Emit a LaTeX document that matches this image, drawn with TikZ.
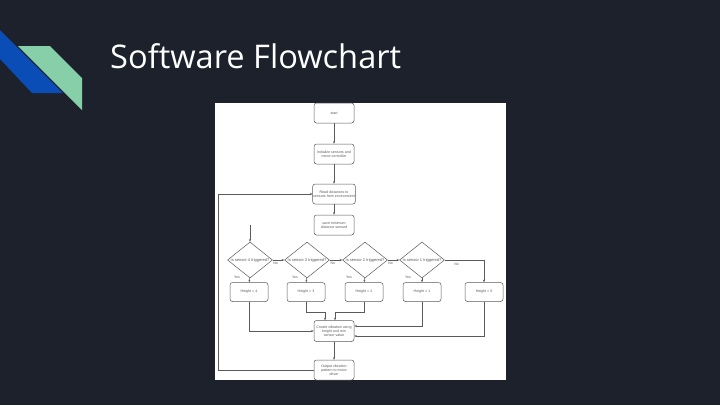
\documentclass[tikz,border=0pt]{standalone}
\usepackage{fontspec}
\setmainfont{Liberation Sans}
\newfontfamily\titlefont{Open Sans}
\usetikzlibrary{shapes.geometric,arrows.meta}
\definecolor{slidebg}{HTML}{1C212C}
\definecolor{bandblue}{HTML}{0B4DB6}
\definecolor{bandgreen}{HTML}{86CFA8}
\definecolor{chartline}{HTML}{5A5A5A}
\tikzset{
  box/.style={draw=chartline, line width=0.5pt, rounded corners=2.5pt, minimum width=40pt,
    minimum height=20pt, inner sep=0.5pt, align=center, text=chartline,
    font=\fontsize{3.6}{4.2}\selectfont},
  hbox/.style={box, minimum width=38pt, minimum height=19pt},
  dec/.style={draw=chartline, line width=0.5pt, shape=diamond, minimum width=45pt,
    minimum height=36pt, inner sep=0pt},
  dectext/.style={text=chartline, font=\fontsize{4}{4.5}\selectfont, inner sep=0pt},
  flow/.style={draw=chartline, line width=0.5pt, -{Stealth[length=2.5pt,width=2pt]}},
  tag/.style={text=chartline, font=\fontsize{3.5}{4}\selectfont, inner sep=0pt}
}
\begin{document}
\begin{tikzpicture}[x=1pt,y=-1pt]
\useasboundingbox (0,0) rectangle (720,405);
\fill[slidebg] (0,0) rectangle (720,405);
% corner bands
\fill[bandblue] (0,30) -- (63,93) -- (32,93) -- (0,59) -- cycle;
\fill[bandgreen] (18,46) -- (50,46) -- (82,78) -- (82,110) -- cycle;
\node[anchor=base west, text=white, inner sep=0pt, font=\titlefont\fontsize{32.6}{38}\selectfont]
  (title) at (110,68) {Software Flowchart};
% image of the chart
\fill[white] (215,103) rectangle (506,380);

\node[box] (start) at (334,113) {start};
\node[box] (init) at (334,154) {Initialize sensors and\\motor controller};
\node[box] (read) at (334,194) {Read distances to\\sensors from environment};
\node[box] (save) at (334,225) {save minimum\\distance sensed};

\node[dec] (d4) at (250,260) {};
\node[dec] (d3) at (307,260) {};
\node[dec] (d2) at (365,260) {};
\node[dec] (d1) at (422,260) {};
\node[dectext] (t4) at (d4) {Is sensor 4 triggered?};
\node[dectext] (t3) at (d3) {Is sensor 3 triggered?};
\node[dectext] (t2) at (d2) {Is sensor 2 triggered?};
\node[dectext] (t1) at (d1) {Is sensor 1 triggered?};

\node[hbox] (h4) at (249,292) {Height = 4};
\node[hbox] (h3) at (306,292) {Height = 3};
\node[hbox] (h2) at (364,292) {Height = 2};
\node[hbox] (h1) at (422,292) {Height = 1};
\node[hbox] (h0) at (484,292) {Height = 0};

\node[box, minimum height=21pt] (create) at (334,331) {Create vibration using\\height and min\\sensor value};
\node[box] (out) at (334,370) {Output vibration\\pattern to motor\\driver};

\draw[flow] (start) -- (init);
\draw[flow] (init) -- (read);
\draw[flow] (read) -- (save);
\coordinate (drop) at (250,225);
\draw[flow] (drop) -- (d4);

\draw[flow] (d4) -- node[tag, below=2pt, pos=0.25] (n4) {No} (d3);
\draw[flow] (d3) -- node[tag, below=2pt, pos=0.25] (n3) {No} (d2);
\draw[flow] (d2) -- node[tag, below=2pt, pos=0.25] (n2) {No} (d1);
\draw[flow] (d1.east) -| node[tag, below=3pt, pos=0.15] (n1) {No} (h0.north);

\draw[flow] (d4) -- (h4);
\draw[flow] (d3) -- (h3);
\draw[flow] (d2) -- (h2);
\draw[flow] (d1) -- (h1);
\node[tag] (y4) at (237,277) {Yes};
\node[tag] (y3) at (295,277) {Yes};
\node[tag] (y2) at (349,277) {Yes};
\node[tag] (y1) at (408,277) {Yes};

\draw[flow] (h4.south) |- (create.west);
\draw[flow] (h3.south) -- ++(0,10) -| ([xshift=-9pt]create.north);
\draw[flow] (h2.south) -- ++(0,10) -| ([xshift=1pt]create.north);
\draw[flow] (h1.south) |- ([yshift=5pt]create.east);
\draw[flow] (h0.south) |- ([yshift=-5pt]create.east);
\draw[flow] (create) -- (out);
\coordinate (loop) at (218,370);
\draw[flow] (out.west) -- (loop) |- (read.west);
\end{tikzpicture}
\end{document}
